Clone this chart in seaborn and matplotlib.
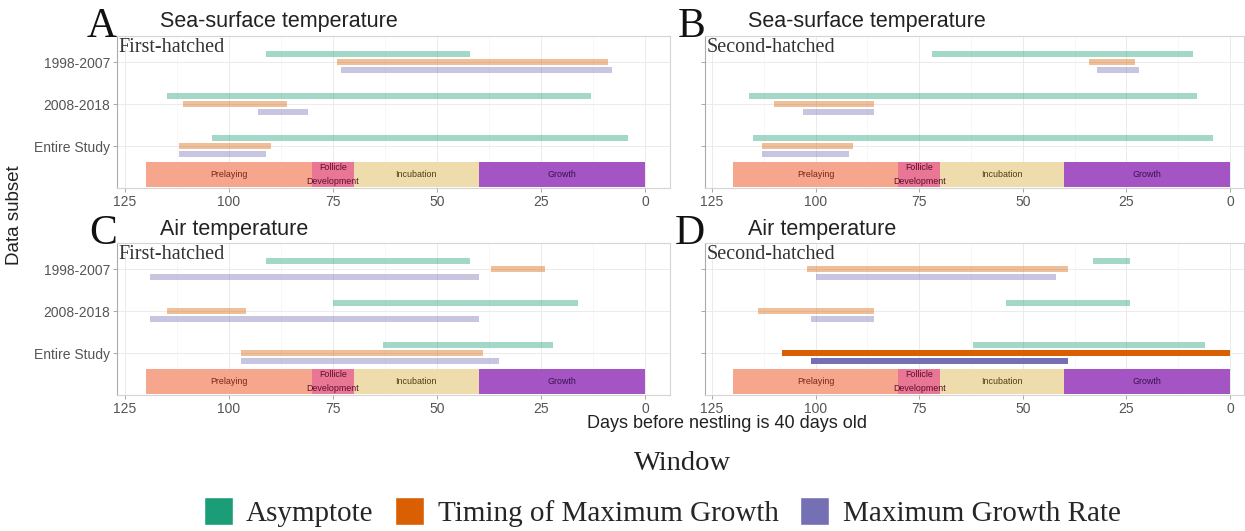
import matplotlib
matplotlib.use("Agg")
import matplotlib.pyplot as plt
from matplotlib.patches import Patch
from matplotlib.ticker import MultipleLocator
import seaborn as sns

# ---- data -------------------------------------------------------------
subsets = ["1998-2007", "2008-2018", "Entire Study"]
windows = ["Asymptote", "Timing of Maximum Growth", "Maximum Growth Rate"]

# Window open / close (days before nestling is 40 days old), one list per window,
# entries ordered as in `subsets`.
sst_first_open = {"Asymptote": [91, 115, 104],
                  "Timing of Maximum Growth": [74, 111, 112],
                  "Maximum Growth Rate": [73, 93, 112]}
sst_first_close = {"Asymptote": [42, 13, 4],
                   "Timing of Maximum Growth": [9, 86, 90],
                   "Maximum Growth Rate": [8, 81, 91]}

sst_second_open = {"Asymptote": [72, 116, 115],
                   "Timing of Maximum Growth": [34, 110, 113],
                   "Maximum Growth Rate": [32, 103, 113]}
sst_second_close = {"Asymptote": [9, 8, 4],
                    "Timing of Maximum Growth": [23, 86, 91],
                    "Maximum Growth Rate": [22, 86, 92]}

air_first_open = {"Asymptote": [91, 75, 63],
                  "Timing of Maximum Growth": [37, 115, 97],
                  "Maximum Growth Rate": [119, 119, 97]}
air_first_close = {"Asymptote": [42, 16, 22],
                   "Timing of Maximum Growth": [24, 96, 39],
                   "Maximum Growth Rate": [40, 40, 35]}

air_second_open = {"Asymptote": [33, 54, 62],
                   "Timing of Maximum Growth": [102, 114, 108],
                   "Maximum Growth Rate": [100, 101, 101]}
air_second_close = {"Asymptote": [24, 24, 6],
                    "Timing of Maximum Growth": [39, 86, 0],
                    "Maximum Growth Rate": [42, 86, 39]}
# windows that are drawn at full strength
air_second_solid = {"Asymptote": [False, False, False],
                    "Timing of Maximum Growth": [False, False, True],
                    "Maximum Growth Rate": [False, False, True]}
no_solid = {w: [False, False, False] for w in windows}

phase_names = ["Prelaying", "Follicle\nDevelopment", "Incubation", "Growth"]
phase_start = [120, 80, 70, 40]
phase_end = [80, 70, 40, 0]

# ---- style ------------------------------------------------------------
sns.set_theme(style="whitegrid")
plt.rcParams["font.family"] = ["Liberation Sans", "DejaVu Sans"]
SERIF = ["Liberation Serif", "DejaVu Serif"]

window_colors = dict(zip(windows, sns.color_palette("Dark2", 3)))
phase_colors = ["#f6a68c", "#ea7696", "#efdcac", "#a455c3"]
phase_text = ["#7a2418", "#5a0f2a", "#4a3d12", "#3a0f50"]

W, H = 1245, 531
fig = plt.figure(figsize=(W / 100, H / 100), dpi=100)


def rect(l, t, r, b):
    return [l / W, 1 - b / H, (r - l) / W, (b - t) / H]


panels = [
    dict(letter="A", title="Sea-surface temperature", brood="First-hatched",
         box=(117, 36, 670, 188), xlim=(126.9, -6.0),
         opens=sst_first_open, closes=sst_first_close, solid=no_solid, ylab=True),
    dict(letter="B", title="Sea-surface temperature", brood="Second-hatched",
         box=(705, 36, 1244, 188), xlim=(126.7, -3.4),
         opens=sst_second_open, closes=sst_second_close, solid=no_solid, ylab=False),
    dict(letter="C", title="Air temperature", brood="First-hatched",
         box=(117, 243, 670, 395), xlim=(126.9, -6.0),
         opens=air_first_open, closes=air_first_close, solid=no_solid, ylab=True),
    dict(letter="D", title="Air temperature", brood="Second-hatched",
         box=(705, 243, 1244, 395), xlim=(126.7, -3.4),
         opens=air_second_open, closes=air_second_close, solid=air_second_solid, ylab=False),
]

row_y = [3, 2, 1]
offsets = {"Asymptote": 0.2, "Timing of Maximum Growth": 0.0, "Maximum Growth Rate": -0.2}

for p in panels:
    ax = fig.add_axes(rect(*p["box"]))
    ax.set_xlim(*p["xlim"])
    ax.set_ylim(0, 3.62)

    # developmental phases along the bottom
    for name, s, e, c, tc in zip(phase_names, phase_start, phase_end, phase_colors, phase_text):
        ax.barh(0.32, e - s, left=s, height=0.6, color=c, edgecolor="none", zorder=2)
        ax.text((s + e) / 2, 0.32, name, ha="center", va="center", fontsize=6.4,
                color=tc, zorder=3, linespacing=1.6)

    # climate windows
    for w in windows:
        for yy, o, cl, sol in zip(row_y, p["opens"][w], p["closes"][w], p["solid"][w]):
            ax.barh(yy + offsets[w], cl - o, left=o, height=0.14,
                    color=window_colors[w], alpha=1.0 if sol else 0.4,
                    edgecolor="none", zorder=3)

    ax.set_xticks([125, 100, 75, 50, 25, 0])
    ax.xaxis.set_minor_locator(MultipleLocator(12.5))
    ax.set_yticks(row_y)
    ax.set_yticklabels(subsets if p["ylab"] else [])
    ax.grid(True, which="major", color="#ebebeb", lw=0.7)
    ax.grid(True, which="minor", axis="x", color="#f4f4f4", lw=0.5)
    ax.tick_params(axis="both", which="major", labelsize=10, labelcolor="#555555",
                   color="#999999", length=3, width=0.6, pad=2, left=True, bottom=True)
    ax.tick_params(which="minor", length=0)
    for side, sp in ax.spines.items():
        sp.set_color("#aaaaaa" if side == "left" else "#d4d4d4")
        sp.set_linewidth(0.8)
    ax.set_axisbelow(True)

    ax.text(0.003, 0.985, p["brood"], transform=ax.transAxes, ha="left", va="top",
            fontsize=14.5, family=SERIF, color="#333333", zorder=4)

    l, t = p["box"][0], p["box"][1]
    fig.text(l / W, 1 - (t + 1) / H, p["letter"], ha="right", va="baseline",
             fontsize=30, family=SERIF, color="#111111")
    fig.text((l + 43) / W, 1 - (t - 14) / H, p["title"], ha="left", va="center",
             fontsize=15.5, color="#222222")

fig.text(15 / W, 1 - 215 / H, "Data subset", rotation=90, ha="center", va="center",
         fontsize=13.5, color="#222222")
fig.text(727 / W, 1 - 423 / H, "Days before nestling is 40 days old", ha="center",
         va="center", fontsize=13, color="#222222")
fig.text(683 / W, 1 - 463 / H, "Window", ha="center", va="center", fontsize=20.5,
         family=SERIF, color="#222222")

handles = [Patch(facecolor=window_colors[w], edgecolor="white", label=w) for w in windows]
fig.legend(handles=handles, loc="center", bbox_to_anchor=(662 / W, 1 - 512 / H),
           ncol=3, frameon=False, prop={"family": SERIF, "size": 21},
           handlelength=1.0, handleheight=1.1, handletextpad=0.45, columnspacing=0.75,
           borderaxespad=0, borderpad=0)

fig.savefig("out.png", dpi=100)
